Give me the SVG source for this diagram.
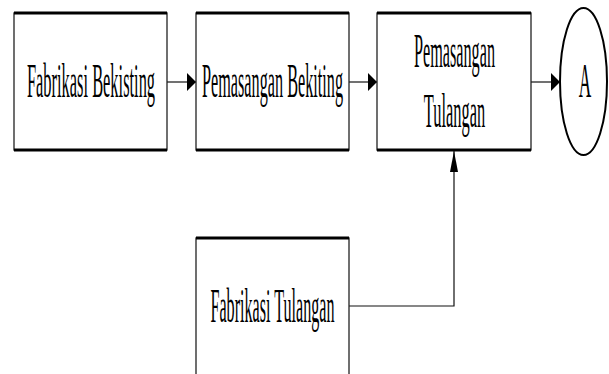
<svg xmlns="http://www.w3.org/2000/svg" width="609" height="374" viewBox="0 0 609 374">
  <style>
    .box { fill: #fff; stroke: #222; stroke-width: 1.3; }
    .edge { stroke: #000; stroke-width: 3; }
    .lbl { font-family: "Liberation Serif", "Times New Roman", serif; font-size: 48px; fill: #000; text-anchor: middle; }
    .link { fill: none; stroke: #111; stroke-width: 1.2; }
  </style>
  <defs>
    <marker id="arrow-h" markerUnits="userSpaceOnUse" markerWidth="10" markerHeight="20" refX="9" refY="10" orient="auto">
      <path d="M0,1 L9,10 L0,19 Z" fill="#000"/>
    </marker>
    <marker id="arrow-v" markerUnits="userSpaceOnUse" markerWidth="22" markerHeight="10" refX="21" refY="5" orient="auto">
      <path d="M0,1 L21,5 L0,9 Z" fill="#000"/>
    </marker>
  </defs>

  <g id="connectors">
    <path class="link" d="M167,82 H196" marker-end="url(#arrow-h)"/>
    <path class="link" d="M349,82 H377" marker-end="url(#arrow-h)"/>
    <path class="link" d="M531,82 H560" marker-end="url(#arrow-h)"/>
    <path class="link" d="M349,306 H454 V151" marker-end="url(#arrow-v)"/>
  </g>

  <!-- labels use a narrow horizontal scale to get the condensed serif look -->
  <g id="fabrikasi-bekisting">
    <rect class="box" x="14" y="13" width="153" height="137"/>
    <line class="edge" x1="14" y1="13" x2="167" y2="13"/>
    <line class="edge" x1="14" y1="150" x2="167" y2="150"/>
    <text class="lbl" transform="translate(91,97) scale(0.342,1)">Fabrikasi Bekisting</text>
  </g>

  <g id="pemasangan-bekiting">
    <rect class="box" x="196" y="13" width="153" height="137"/>
    <line class="edge" x1="196" y1="13" x2="349" y2="13"/>
    <line class="edge" x1="196" y1="150" x2="349" y2="150"/>
    <text class="lbl" transform="translate(272.5,97) scale(0.338,1)">Pemasangan Bekiting</text>
  </g>

  <g id="pemasangan-tulangan">
    <rect class="box" x="377" y="13" width="154" height="137"/>
    <line class="edge" x1="377" y1="13" x2="531" y2="13"/>
    <line class="edge" x1="377" y1="150" x2="531" y2="150"/>
    <text class="lbl" transform="translate(454.5,67) scale(0.338,1)">Pemasangan</text>
    <text class="lbl" transform="translate(454.5,127) scale(0.342,1)">Tulangan</text>
  </g>

  <g id="fabrikasi-tulangan">
    <rect class="box" x="196" y="238" width="153" height="137"/>
    <line class="edge" x1="196" y1="238" x2="349" y2="238"/>
    <text class="lbl" transform="translate(272.5,322) scale(0.336,1)">Fabrikasi Tulangan</text>
  </g>

  <g id="connector-a">
    <ellipse cx="583.5" cy="81.5" rx="23.5" ry="73.5" fill="#fff" stroke="#000" stroke-width="2"/>
    <text class="lbl" transform="translate(585,97) scale(0.36,1)">A</text>
  </g>
</svg>
